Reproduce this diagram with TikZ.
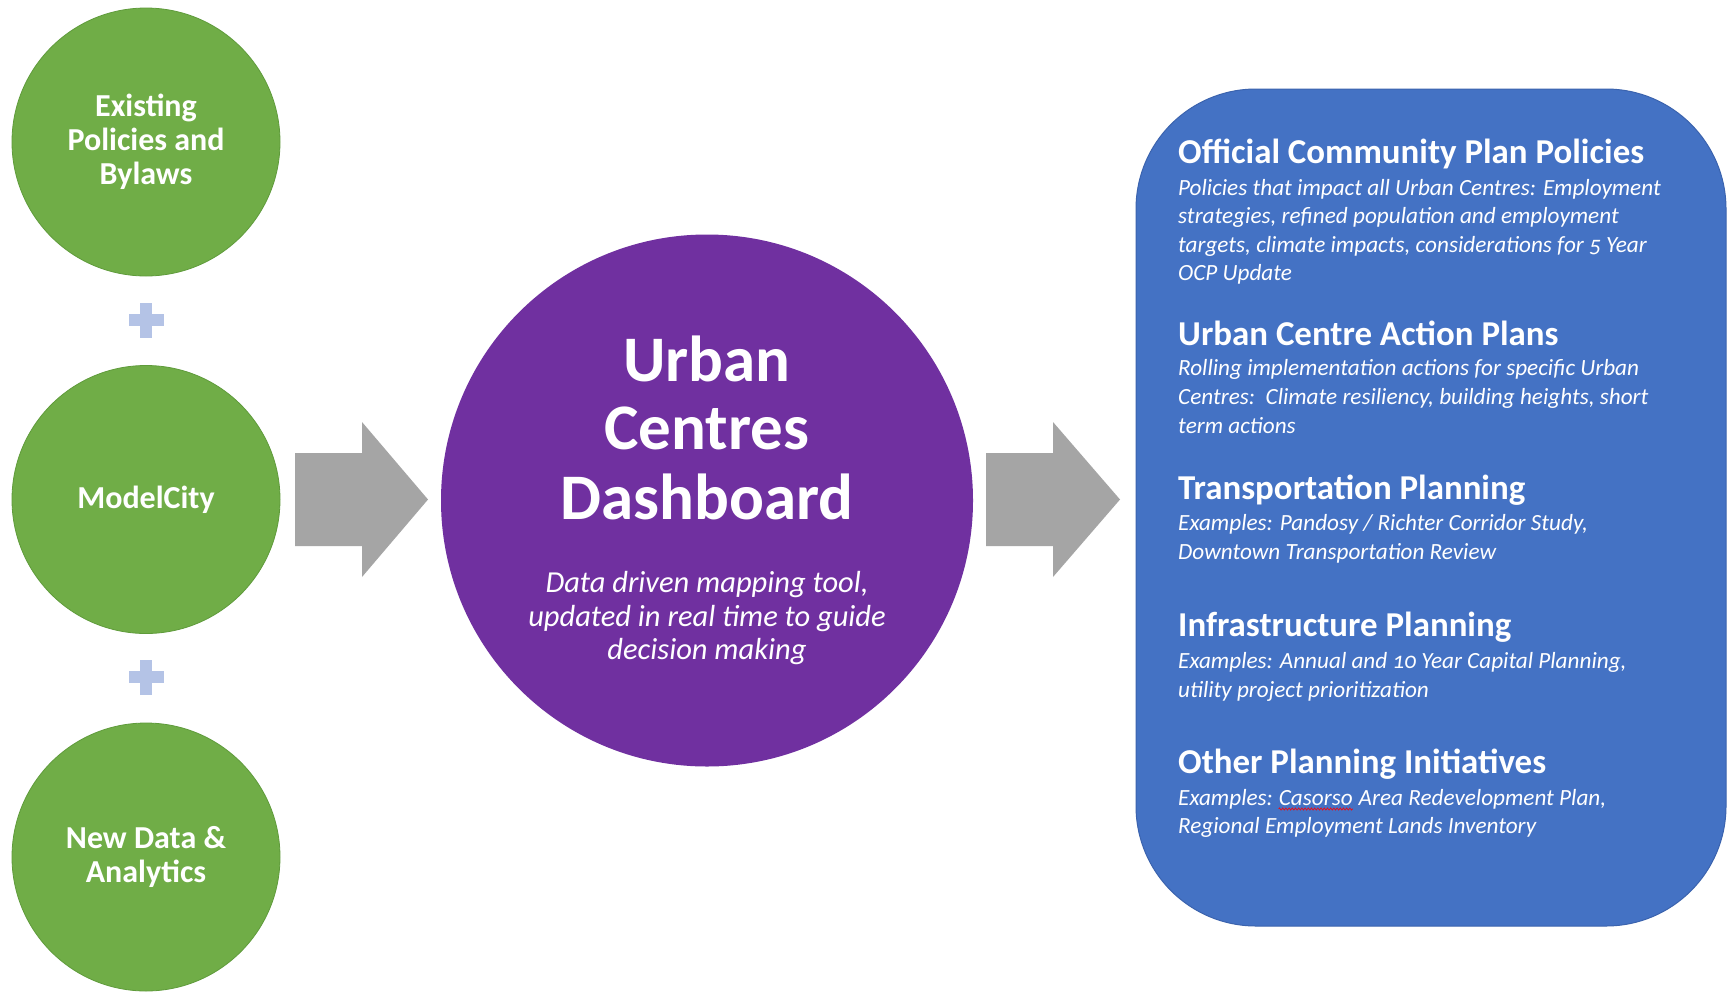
\documentclass[tikz,border=0pt]{standalone}
\usepackage{fontspec}
\setmainfont{Carlito}[Numbers=OldStyle]
\usetikzlibrary{decorations.pathmorphing}
\definecolor{cgreen}{HTML}{70AD47}
\definecolor{cgreenline}{HTML}{5F9B3B}
\definecolor{cpurple}{HTML}{7030A0}
\definecolor{cblue}{HTML}{4472C4}
\definecolor{cblueline}{HTML}{3B63AE}
\definecolor{cgray}{HTML}{A5A5A5}
\definecolor{cplus}{HTML}{B4C3E6}
\tikzset{
  gcirc/.style={circle, fill=cgreen, draw=cgreenline, line width=0.8pt, minimum size=268pt, inner sep=0pt,
    text=white, align=center, font=\fontsize{32}{34}\selectfont\bfseries},
  pcirc/.style={circle, fill=cpurple, minimum size=532pt, inner sep=0pt},
  ptitle/.style={text=white, font=\fontsize{65}{68}\selectfont\bfseries, anchor=base, inner sep=0pt},
  psub/.style={text=white, font=\fontsize{30.5}{34}\selectfont\itshape, anchor=base, inner sep=0pt},
  panelbox/.style={rectangle, fill=cblue, draw=cblueline, line width=1pt, rounded corners=120pt,
    minimum width=590pt, minimum height=837pt, inner sep=0pt},
  head/.style={text=white, font=\fontsize{34.9}{40}\selectfont\bfseries, anchor=base west, inner sep=0pt},
  body/.style={text=white, font=\fontsize{23.2}{28}\selectfont\itshape, anchor=base west, inner sep=0pt},
  plusfill/.style={fill=cplus},
  blockarrow/.style={fill=cgray},
  spellwave/.style={draw=red, line width=0.6pt, decorate, decoration={zigzag, amplitude=1.1pt, segment length=3.2pt}}
}
\begin{document}
\begin{tikzpicture}[x=1pt,y=-1pt]
\useasboundingbox (0,0) rectangle (1727,991);
\fill[white] (0,0) rectangle (1727,991);

% green inputs
\node[gcirc] (g1) at (146,142) {Existing\\Policies and\\Bylaws};
\node[gcirc] (g2) at (146,499.5) {ModelCity};
\node[gcirc] (g3) at (146,857) {New Data \&\\Analytics};

% plus signs
\fill[plusfill] (128.5,314) rectangle (163.5,326);
\fill[plusfill] (140,302.5) rectangle (152,337.5);
\fill[plusfill] (128.5,671) rectangle (163.5,683);
\fill[plusfill] (140,659.5) rectangle (152,694.5);

% block arrows
\fill[blockarrow] (295,453) -- (362,453) -- (362,422) -- (428,499.5) -- (362,577) -- (362,546) -- (295,546) -- cycle;
\fill[blockarrow] (986,453) -- (1053,453) -- (1053,422) -- (1120,499.5) -- (1053,577) -- (1053,546) -- (986,546) -- cycle;

% dashboard
\node[pcirc] (dash) at (707,500.5) {};
\node[ptitle] (dt1) at (707,381) {Urban};
\node[ptitle] (dt2) at (707,449.5) {Centres};
\node[ptitle] (dt3) at (707,519) {Dashboard};
\node[psub] (ds1) at (707,592) {Data driven mapping tool,};
\node[psub] (ds2) at (707,626) {updated in real time to guide};
\node[psub] (ds3) at (707,659.5) {decision making};

% outputs panel
\node[panelbox] (panel) at (1431,507.5) {};
\node[head] (h1) at (1178,163) {Official Community Plan Policies};
\node[body] (b1a) at (1178,195) {Policies that impact all Urban Centres: Employment};
\node[body] (b1b) at (1178,223.5) {strategies, refined population and employment};
\node[body] (b1c) at (1178,252) {targets, climate impacts, considerations for 5 Year};
\node[body] (b1d) at (1178,280.5) {OCP Update};

\node[head] (h2) at (1178,345) {Urban Centre Action Plans};
\node[body] (b2a) at (1178,375) {Rolling implementation actions for specific Urban};
\node[body] (b2b) at (1178,404) {Centres:\ \ Climate resiliency, building heights, short};
\node[body] (b2c) at (1178,433) {term actions};

\node[head] (h3) at (1178,499) {Transportation Planning};
\node[body] (b3a) at (1178,530) {Examples: Pandosy / Richter Corridor Study,};
\node[body] (b3b) at (1178,559) {Downtown Transportation Review};

\node[head] (h4) at (1178,636) {Infrastructure Planning};
\node[body] (b4a) at (1178,668) {Examples: Annual and 10 Year Capital Planning,};
\node[body] (b4b) at (1178,697) {utility project prioritization};

\node[head] (h5) at (1178,773) {Other Planning Initiatives};
\node[body] (b5a) at (1178,805) {Examples:\kern0.24em};
\node[body] (b5w) at (b5a.base east) {Casorso};
\node[body] (b5c) at (b5w.base east) {\kern0.24em Area Redevelopment Plan,};
\draw[spellwave] ([yshift=-4pt]b5w.base west) -- ([yshift=-4pt]b5w.base east);
\node[body] (b5b) at (1178,833) {Regional Employment Lands Inventory};
\end{tikzpicture}
\end{document}
